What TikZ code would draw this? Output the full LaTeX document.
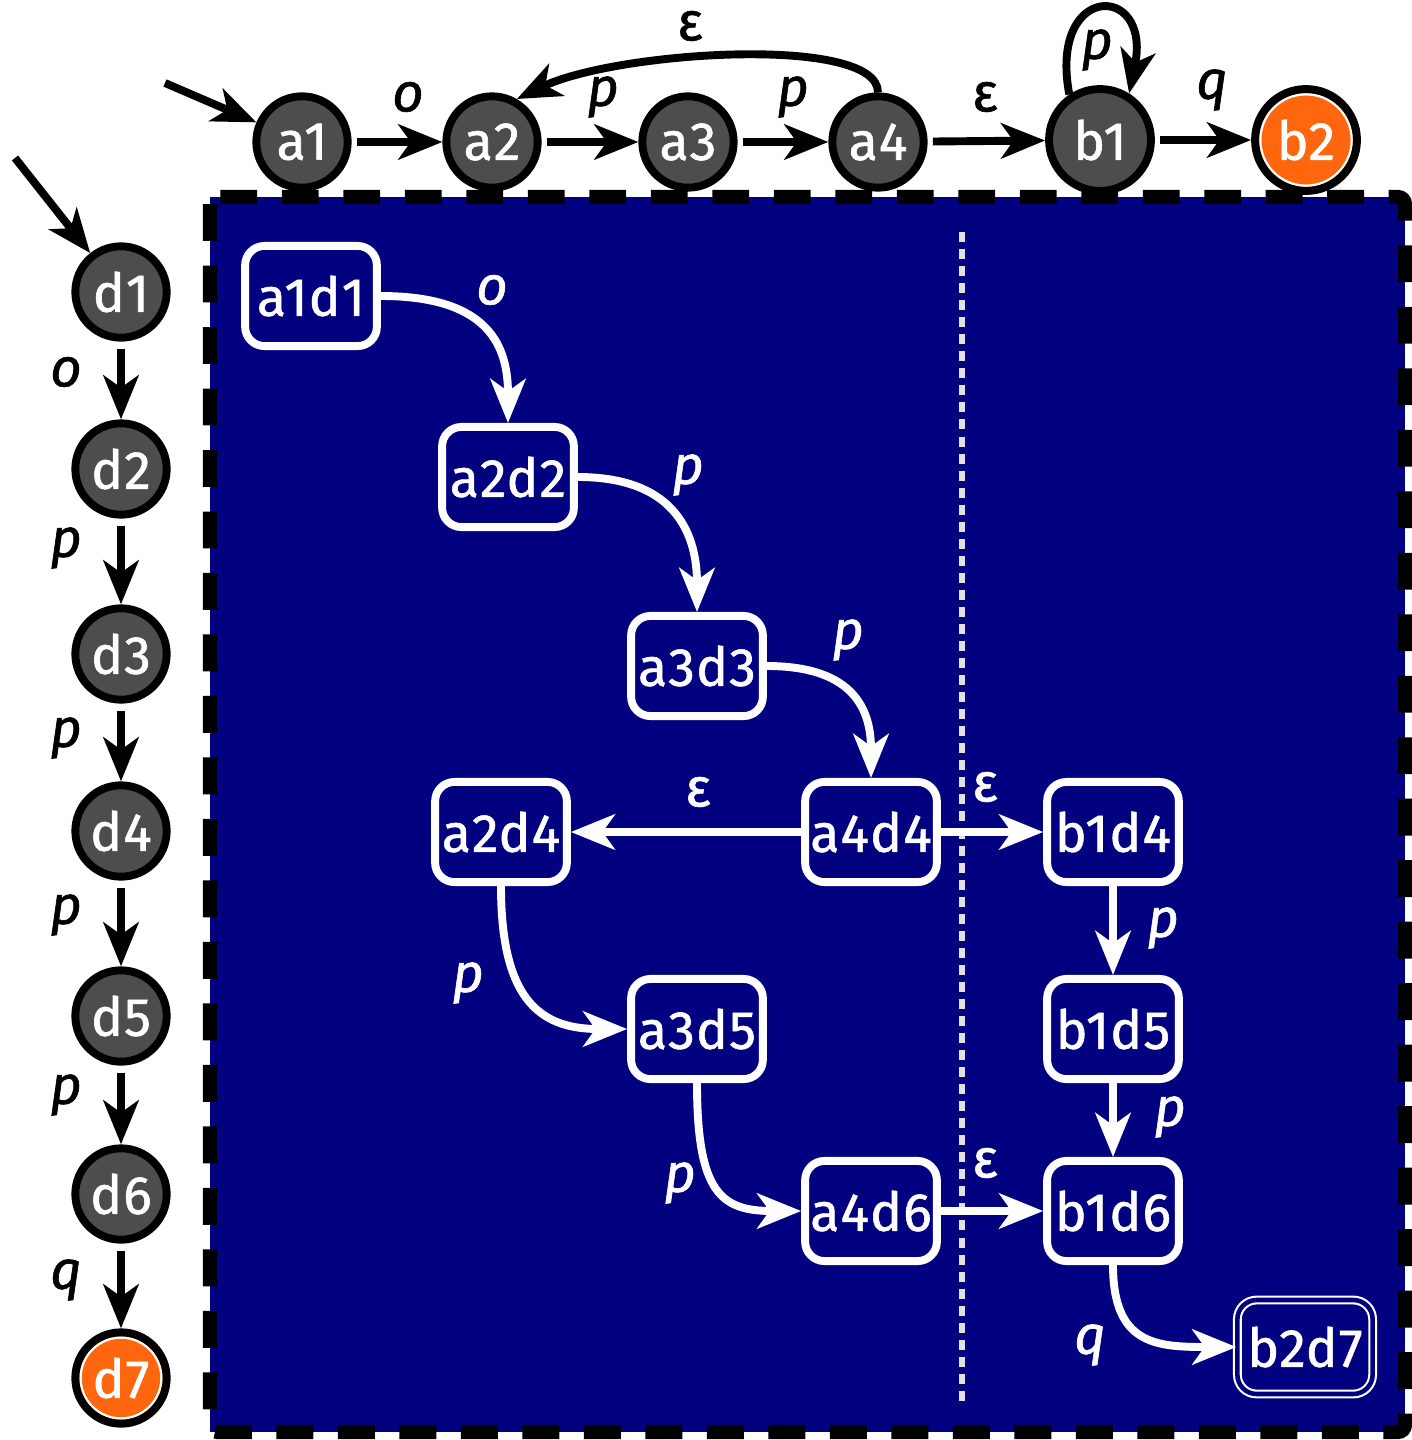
\documentclass[tikz,border=0pt]{standalone}
\usepackage{fontspec}
\setmainfont{Fira Sans}[FakeBold=1.1, LetterSpace=2]
\usetikzlibrary{arrows.meta}
\definecolor{navybg}{RGB}{2,2,128}
\definecolor{stgray}{RGB}{77,77,77}
\definecolor{storange}{RGB}{255,102,13}
\definecolor{divgray}{RGB}{225,225,225}
\begin{document}
\begin{tikzpicture}[x=0.02cm,y=-0.02cm,
  txt/.style={font=\fontsize{30.5}{31}\selectfont},
  st/.style={circle, draw=black, line width=4.5pt, fill=stgray, text=white, minimum size=52pt, inner sep=0pt, txt},
  bst/.style={st, minimum size=58pt},
  fin/.style={fill=storange, path picture={\draw[white,line width=1.3pt] (path picture bounding box.center) circle (23pt);}},
  bfin/.style={fill=storange, path picture={\draw[white,line width=1.3pt] (path picture bounding box.center) circle (26pt);}},
  pst/.style={rectangle, rounded corners=11pt, draw=white, line width=4.5pt, fill=navybg, text=white, minimum width=75pt, minimum height=57pt, inner sep=0pt, txt},
  pfin/.style={rectangle, rounded corners=11pt, draw=white, line width=1.2pt, double=navybg, double distance=2.6pt, fill=navybg, text=white, minimum width=77pt, minimum height=53.5pt, inner sep=0pt, txt},
  arr/.style={-{Stealth[length=25pt,width=20pt,inset=7pt]}, line width=4.5pt},
  barr/.style={arr, draw=black},
  warr/.style={arr, draw=white},
  lbl/.style={font=\fontsize{31}{31}\selectfont\itshape, inner sep=0pt},
  elbl/.style={font=\fontsize{31}{31}\selectfont, inner sep=0pt},
  blbl/.style={lbl, text=black},
  wlbl/.style={lbl, text=white},
  bep/.style={elbl, text=black},
  wep/.style={elbl, text=white},
]
\useasboundingbox (0,0) rectangle (1411,1440);
% background box
\fill[navybg] (210,197) rectangle (1405,1432);
\draw[black, line width=8pt, dash pattern=on 21pt off 14pt, rounded corners=4pt] (210,197) rectangle (1405,1432);
\draw[divgray, line width=3.8pt, dash pattern=on 5.7pt off 4pt] (962,232) -- (962,1402);

% top automaton
\node[st] (a1) at (302,142) {a1};
\node[st] (a2) at (492,142) {a2};
\node[st] (a3) at (688,142) {a3};
\node[st] (a4) at (878,142) {a4};
\node[bst] (b1) at (1100,140) {b1};
\node[bst,bfin] (b2) at (1306,140) {b2};
\coordinate (ia) at (165,83);
\draw[barr] (ia) -- (a1);
\draw[barr, shorten <=3pt] (a1) -- (a2);
\draw[barr, shorten <=3pt] (a2) -- (a3);
\draw[barr, shorten <=3pt] (a3) -- (a4);
\draw[barr, shorten <=3pt] (a4) -- (b1);
\draw[barr, shorten <=3pt] (b1) -- (b2);
\draw[barr] (a4.north) .. controls +(0,-58) and +(100,-48) .. (a2.60);
\draw[barr] (b1.124) .. controls (1048,-18) and (1152,-18) .. (b1.58);
\node[blbl] (la1) at (408,97) {o};
\node[blbl] (la2) at (603,97) {p};
\node[blbl] (la3) at (793,97) {p};
\node[bep] (la4) at (985,97) {ε};
\node[blbl] (la5) at (1212,90) {q};
\node[bep] (la6) at (690,26) {ε};
\node[blbl] (la7) at (1097,50) {p};

% left automaton
\node[st] (d1) at (121,292) {d1};
\node[st] (d2) at (121,469) {d2};
\node[st] (d3) at (121,654) {d3};
\node[st] (d4) at (121,831) {d4};
\node[st] (d5) at (121,1016) {d5};
\node[st] (d6) at (121,1194) {d6};
\node[st,fin] (d7) at (121,1378) {d7};
\coordinate (id) at (15,158);
\draw[barr] (id) -- (d1);
\draw[barr, shorten <=4pt] (d1) -- (d2);
\draw[barr, shorten <=4pt] (d2) -- (d3);
\draw[barr, shorten <=4pt] (d3) -- (d4);
\draw[barr, shorten <=4pt] (d4) -- (d5);
\draw[barr, shorten <=4pt] (d5) -- (d6);
\draw[barr, shorten <=4pt] (d6) -- (d7);
\node[blbl] (ld1) at (66,372) {o};
\node[blbl] (ld2) at (66,548) {p};
\node[blbl] (ld3) at (66,738) {p};
\node[blbl] (ld4) at (66,915) {p};
\node[blbl] (ld5) at (66,1095) {p};
\node[blbl] (ld6) at (66,1280) {q};

% product
\node[pst] (a1d1) at (311,296) {a1d1};
\node[pst] (a2d2) at (508,477) {a2d2};
\node[pst] (a3d3) at (697,666) {a3d3};
\node[pst] (a4d4) at (871,832) {a4d4};
\node[pst] (a2d4) at (501,832) {a2d4};
\node[pst] (b1d4) at (1113,832) {b1d4};
\node[pst] (a3d5) at (697,1029) {a3d5};
\node[pst] (b1d5) at (1113,1029) {b1d5};
\node[pst] (a4d6) at (871,1211) {a4d6};
\node[pst] (b1d6) at (1113,1211) {b1d6};
\node[pfin] (b2d7) at (1305,1347) {b2d7};

\draw[warr] (a1d1.east) .. controls +(110,0) and +(0,-75) .. (a2d2.north);
\draw[warr] (a2d2.east) .. controls +(100,0) and +(0,-75) .. (a3d3.north);
\draw[warr] (a3d3.east) .. controls +(90,0) and +(0,-65) .. (a4d4.north);
\draw[warr] (a4d4) -- (a2d4);
\draw[warr] (a4d4) -- (b1d4);
\draw[warr] (b1d4) -- (b1d5);
\draw[warr] (b1d5) -- (b1d6);
\draw[warr] (a2d4.south) .. controls +(0,110) and +(-90,0) .. (a3d5.west);
\draw[warr] (a3d5.south) .. controls +(0,110) and +(-80,0) .. (a4d6.west);
\draw[warr] (a4d6) -- (b1d6);
\draw[warr] (b1d6.south) .. controls +(0,80) and +(-80,0) .. (b2d7.west);
\node[wlbl] (l1) at (492,290) {o};
\node[wlbl] (l2) at (688,475) {p};
\node[wlbl] (l3) at (848,640) {p};
\node[wep] (l4) at (698,792) {ε};
\node[wep] (l5) at (985,787) {ε};
\node[wlbl] (l6) at (1163,928) {p};
\node[wlbl] (l7) at (1170,1117) {p};
\node[wlbl] (l8) at (468,983) {p};
\node[wlbl] (l9) at (680,1183) {p};
\node[wep] (l10) at (985,1163) {ε};
\node[wlbl] (l11) at (1090,1345) {q};
\end{tikzpicture}
\end{document}
